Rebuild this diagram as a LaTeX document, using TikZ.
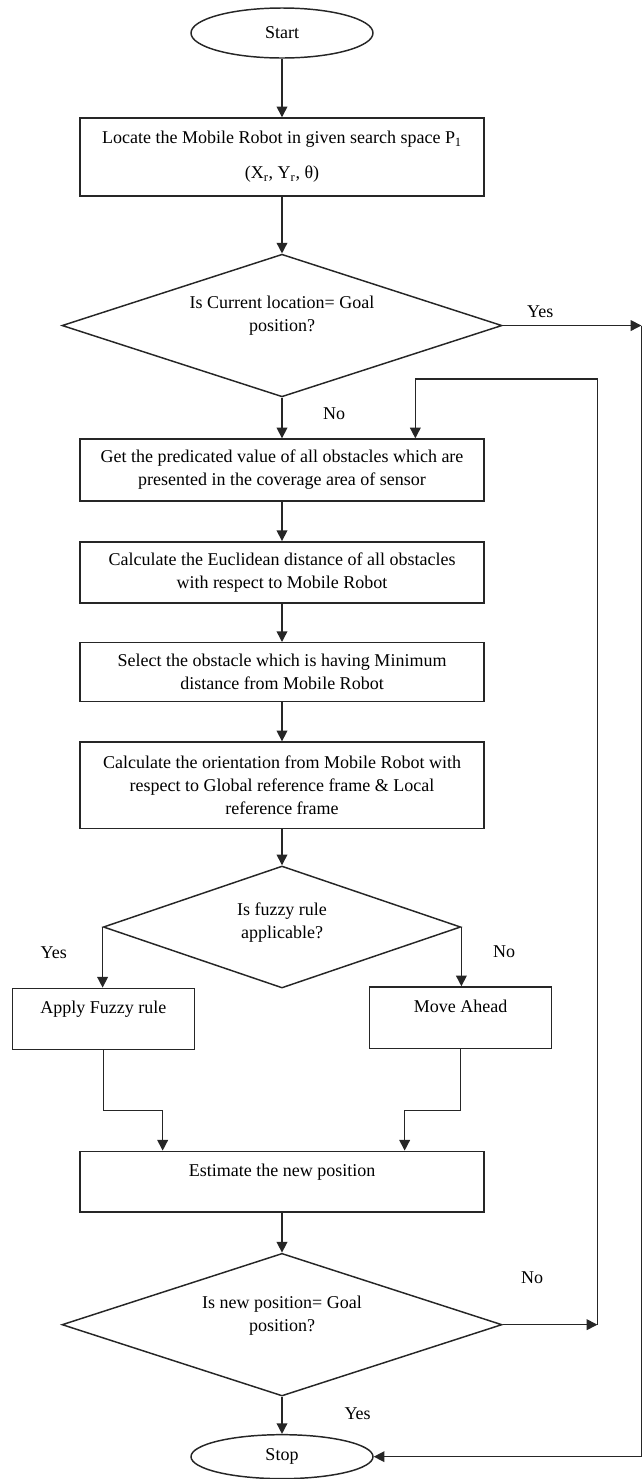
\documentclass[tikz,border=0pt]{standalone}
\usepackage{fontspec}
\setmainfont{Liberation Serif}
\usetikzlibrary{positioning,calc,arrows.meta,shapes.geometric}
\tikzstyle{txt} = [font=\fontsize{13.5}{17.25}\selectfont]
\tikzstyle{block} = [draw, rectangle, txt, align=center, minimum width=303pt]
\tikzstyle{small} = [draw, rectangle, txt, minimum width=136.5pt, minimum height=46pt, text depth=17pt]
\tikzstyle{decision} = [draw, diamond, txt, aspect=3, inner sep=0pt, align=center]
\tikzstyle{terminal} = [draw, ellipse, txt, minimum width=136.5pt]
\tikzstyle{to} = [-{Triangle[length=8pt,width=8pt]},line width=1.1pt]

\begin{document}
\begin{tikzpicture}[auto, node distance=2cm, line width=1.1pt, draw=black!85]
	\useasboundingbox (0,0) rectangle (482.25pt,-1109.25pt);
	\node (start) [terminal, minimum height=37.5pt] at (211.5pt,-24.75pt) {Start};
	\node (locate) [block, below of=start, node distance=93pt, minimum height=58.5pt] {Locate the Mobile Robot in given search space P\textsubscript{1}\\[9pt](X\textsubscript{r}, Y\textsubscript{r}, θ)};
	\node (goal) [decision, below of=locate, node distance=126.4pt, minimum width=330pt, minimum height=107pt, text depth=18pt] {Is Current location= Goal\\position?};
	\node (sense) [block, below of=goal, node distance=108.4pt, minimum height=46.5pt] {Get the predicated value of all obstacles which are\\presented in the coverage area of sensor};
	\node (dist) [block, below of=sense, node distance=76.8pt, minimum height=46pt] {Calculate the Euclidean distance of all obstacles\\with respect to Mobile Robot};
	\node (nearest) [block, below of=dist, node distance=74.7pt, minimum height=44pt] {Select the obstacle which is having Minimum\\distance from Mobile Robot};
	\node (orient) [block, below of=nearest, node distance=85pt, minimum height=65pt] {Calculate the orientation from Mobile Robot with\\respect to Global reference frame \& Local\\reference frame};
	\node (fuzzy) [decision, below of=orient, node distance=106.2pt, minimum width=268pt, minimum height=91.5pt, text depth=9pt] {Is fuzzy rule\\applicable?};
	\node (apply) [small, below of=fuzzy, node distance=69pt, xshift=-134pt] {Apply Fuzzy rule};
	\node (ahead) [small, below of=fuzzy, node distance=68pt, xshift=134pt] {Move Ahead};
	\node (estimate) [block, below of=fuzzy, node distance=191pt, minimum height=45.5pt, text depth=16.5pt] {Estimate the new position};
	\node (newgoal) [decision, below of=estimate, node distance=107.25pt, minimum width=330pt, minimum height=107pt, text depth=16.5pt] {Is new position= Goal\\position?};
	\node (stop) [terminal, below of=newgoal, node distance=99pt, minimum height=33pt] {Stop};
	% turning points of the side lines
	\coordinate (yesend) at ($(goal.east)+(104pt,0)$);
	\coordinate (loopr) at ($(newgoal.east)+(71pt,0)$);
	\coordinate (loopl) at ($(goal.center)+(100pt,-40pt)$);
	\coordinate (ka) at ($(estimate.north)+(-89.5pt,30pt)$);
	\coordinate (kb) at ($(estimate.north)+(92pt,30pt)$);
	\draw [to] (start.south) -- (locate.north);
	\draw [to] (locate.south) -- (goal.north);
	\draw [to] (goal.south) -- node[txt, pos=0.4, right=27pt] {No} (sense.north);
	\draw [to] (goal.east) -- node[txt, pos=0.27, above=2pt] {Yes} (yesend);
	\draw [to] (yesend) |- (stop.east);
	\draw [to] (sense.south) -- (dist.north);
	\draw [to] (dist.south) -- (nearest.north);
	\draw [to] (nearest.south) -- (orient.north);
	\draw [to] (orient.south) -- (fuzzy.north);
	\draw [to] (fuzzy.west) -- node[txt, pos=0.42, left=23pt] {Yes} (fuzzy.west |- apply.north);
	\draw [to] (fuzzy.east) -- node[txt, pos=0.42, right=20pt] {No} (fuzzy.east |- ahead.north);
	\draw [to] (apply.south) |- (ka) -- (ka |- estimate.north);
	\draw [to] (ahead.south) |- (kb) -- (kb |- estimate.north);
	\draw [to] (estimate.south) -- (newgoal.north);
	\draw [to] (newgoal.east) -- node[txt, pos=0.31, above=27pt] {No} (loopr);
	\draw [to] (loopr) |- (loopl) -- (loopl |- sense.north);
	\draw [to] (newgoal.south) -- node[txt, pos=0.45, right=43pt] {Yes} (stop.north);
\end{tikzpicture}
\end{document}
